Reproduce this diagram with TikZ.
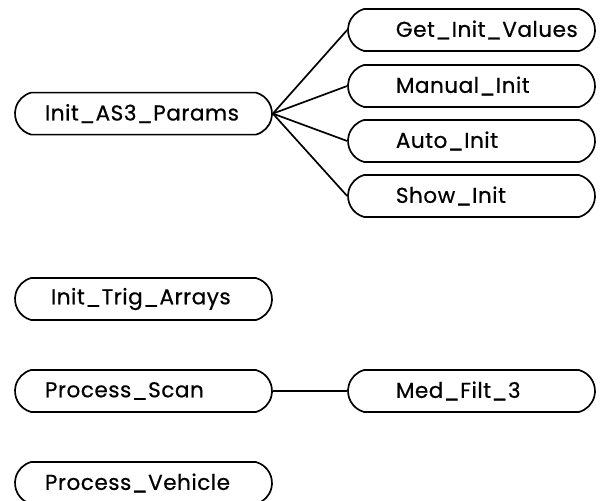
\documentclass[tikz,border=0pt]{standalone}
\usepackage{fontspec}
\setmainfont{Poppins}[LetterSpace=2.5,FakeBold=0.6]
\usetikzlibrary{shapes.misc}

\begin{document}
\begin{tikzpicture}[
  every node/.style={font=\fontsize{15.3}{18}\selectfont},
  modl/.style={draw,rounded rectangle,rounded rectangle arc length=150,line width=1.2pt,minimum height=1.05cm,inner xsep=0pt,align=left},
  lmod/.style={modl,minimum width=6.425cm,text width=4.925cm},
  rmod/.style={modl,minimum width=6.175cm,text width=5.4cm,execute at begin node={\hspace*{0.81cm}}},
  ln/.style={line width=1.2pt}]
\useasboundingbox (0,0) rectangle (15.075,-12.5);
\node[lmod] (iap) at (3.5875,-2.84) {Init\_AS3\_Params};
\node[rmod] (giv) at (11.7875,-0.75) {Get\_Init\_Values};
\node[rmod] (mi) at (11.7875,-2.15) {Manual\_Init};
\node[rmod] (ai) at (11.7875,-3.525) {Auto\_Init};
\node[rmod] (si) at (11.7875,-4.9) {Show\_Init};
\node[lmod] (ita) at (3.5875,-7.475) {\hspace*{0.15cm}Init\_Trig\_Arrays};
\node[lmod] (ps) at (3.5875,-9.775) {Process\_Scan};
\node[rmod] (mf) at (11.7875,-9.775) {Med\_Filt\_3};
\node[lmod] (pv) at (3.5875,-12.075) {Process\_Vehicle};
\foreach \x in {giv,mi,ai,si} \draw[ln] (iap.east) -- (\x.west);
\draw[ln] (ps) -- (mf);
\end{tikzpicture}
\end{document}
